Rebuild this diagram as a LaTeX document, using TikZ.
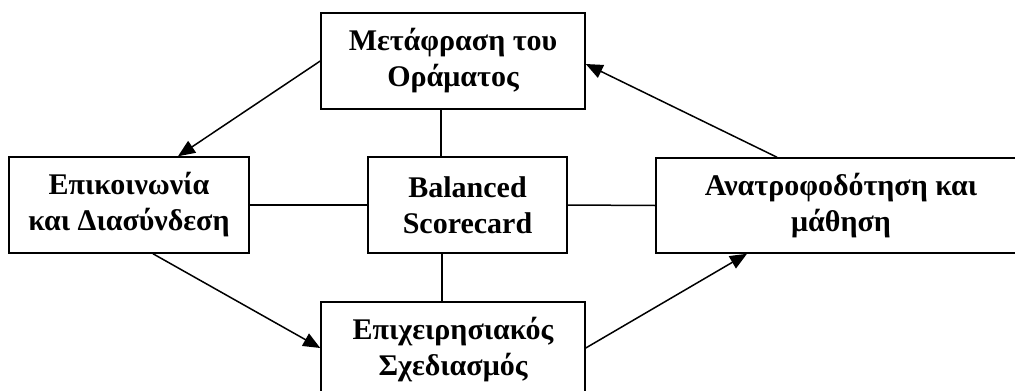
\documentclass[tikz,border=0pt]{standalone}
\usepackage{fontspec}
\setmainfont{Liberation Serif}
\usetikzlibrary{arrows.meta}
\begin{document}
\begin{tikzpicture}[x=1pt,y=-1pt,
  box/.style={draw, line width=1.5pt, align=center, inner sep=0pt,
    font=\fontsize{30}{36}\selectfont\bfseries},
  link/.style={line width=1.5pt},
  arr/.style={line width=1.5pt, -{Triangle[length=17pt,width=14pt]}}]
  \useasboundingbox (0,0) rectangle (1015,391);
  \clip (0,0) rectangle (1015,391);
  \fill[white] (0,0) rectangle (1015,391);

  % the five boxes
  \node[box, minimum width=264pt, minimum height=96pt] (vision) at (453,61)
    {Μετάφραση του\\Οράματος};
  \node[box, minimum width=240pt, minimum height=96pt] (comm) at (129,205)
    {Επικοινωνία\\και Διασύνδεση};
  \node[box, minimum width=199pt, minimum height=96pt] (bsc) at (467.5,205)
    {Balanced\\Scorecard};
  \node[box, minimum width=370pt, minimum height=95pt] (feed) at (841,205.5)
    {Ανατροφοδότηση και\\μάθηση};
  \node[box, minimum width=264pt, minimum height=96pt] (plan) at (453,350)
    {Επιχειρησιακός\\Σχεδιασμός};

  % plain links to the centre box
  \draw[link] ([xshift=-12pt]vision.south) -- ([xshift=-26.5pt]bsc.north);
  \draw[link] ([xshift=-25.5pt]bsc.south) -- ([xshift=-11pt]plan.north);
  \draw[link] (comm.east) -- (bsc.west);
  \draw[link] (bsc.east) -- (feed.west);

  % the cycle of arrows
  \draw[arr] (vision.west) -- ([xshift=49pt]comm.north);
  \draw[arr] ([xshift=24pt]comm.south) -- ([yshift=2pt]plan.west);
  \draw[arr] ([yshift=2pt]plan.east) -- ([xshift=-94pt]feed.south);
  \draw[arr] ([xshift=-64pt]feed.north) -- ([yshift=-3pt]vision.east);
\end{tikzpicture}
\end{document}
